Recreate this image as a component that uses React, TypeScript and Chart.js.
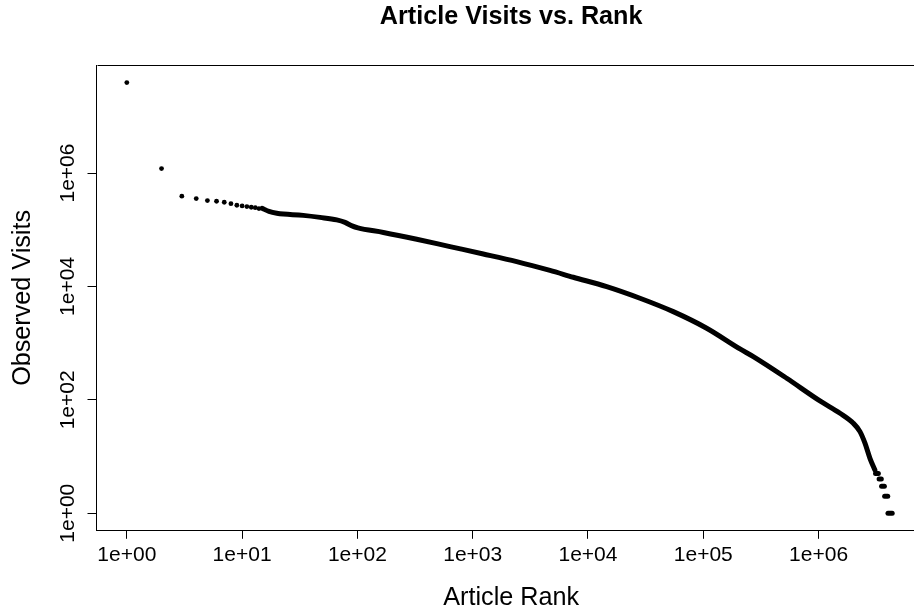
import { useEffect, useRef } from "react";
import { Chart, registerables } from "chart.js";

Chart.register(...registerables);

const FONT = '"Liberation Sans", Arial, Helvetica, sans-serif';

// Individually visible top-ranked articles
const topRanks = [1, 2, 3, 4, 5, 6, 7, 8, 9, 10, 11, 12, 13, 14];
const topVisits = [
  3.93e7, 1.2e6, 3.9e5, 3.54e5, 3.26e5, 3.18e5, 3.05e5, 2.88e5, 2.7e5, 2.63e5,
  2.56e5, 2.49e5, 2.45e5, 2.36e5,
];

// Dense body of the rank/visits curve
const curveRanks = [
  14.9, 17.1, 20, 33.9, 47.4, 66.1, 78.1, 89.8, 101, 168, 327, 635, 1236, 2408,
  4680, 7457, 14530, 28250, 54900, 1.07e5, 2.08e5, 2.716e5, 5.29e5, 1.028e6,
  1.535e6, 2.0e6, 2.286e6, 2.526e6, 2.79e6, 3.08e6,
];
const curveVisits = [
  2.39e5, 2.1e5, 1.95e5, 1.79e5, 1.65e5, 1.49e5, 1.345e5, 1.167e5, 1.076e5,
  8.96e4, 6.8e4, 5.04e4, 3.74e4, 2.74e4, 1.915e4, 1.452e4, 9920, 6190, 3594,
  1832, 790, 578, 240, 95.7, 58, 38.7, 27.5, 17.2, 9.3, 5.8,
];

// Tail: many articles sharing the same small visit count
const tailVisits = [5, 4, 3, 2, 1];
const tailRankStart = [3.12e6, 3.35e6, 3.52e6, 3.74e6, 4.0e6];
const tailRankEnd = [3.3e6, 3.5e6, 3.72e6, 3.98e6, 4.35e6];

const xTickValues = [1, 10, 100, 1e3, 1e4, 1e5, 1e6];
const xTickLabels = ["1e+00", "1e+01", "1e+02", "1e+03", "1e+04", "1e+05", "1e+06"];
const yTickValues = [1, 100, 1e4, 1e6];
const yTickLabels = ["1e+00", "1e+02", "1e+04", "1e+06"];

const titleText = "Article Visits vs. Rank";
const xTitle = "Article Rank";
const yTitle = "Observed Visits";

const framePlugin = {
  id: "frame",
  afterDraw(chart: any) {
    const { ctx, chartArea } = chart;
    const y = chart.scales.y;
    ctx.save();
    ctx.strokeStyle = "#000";
    ctx.lineWidth = 1;
    const top = Math.round(chartArea.top) + 0.5;
    const right = Math.round(chartArea.right) + 0.5;
    ctx.beginPath();
    ctx.moveTo(Math.round(chartArea.left) + 0.5, top);
    ctx.lineTo(right, top);
    ctx.lineTo(right, Math.round(chartArea.bottom) + 0.5);
    ctx.stroke();
    // rotated y tick labels (as in base R graphics)
    ctx.fillStyle = "#000";
    ctx.font = `21px ${FONT}`;
    ctx.textAlign = "center";
    ctx.textBaseline = "middle";
    yTickValues.forEach((v, i) => {
      const py = y.getPixelForValue(v);
      ctx.save();
      ctx.translate(chartArea.left - 28, py);
      ctx.rotate(-Math.PI / 2);
      ctx.fillText(yTickLabels[i], 0, 0);
      ctx.restore();
    });
    ctx.restore();
  },
};

export default function App() {
  const ref = useRef<HTMLCanvasElement | null>(null);

  useEffect(() => {
    if (!ref.current) return;
    Chart.defaults.font.family = FONT;
    Chart.defaults.color = "#000";

    const datasets: any[] = [
      {
        label: "top",
        data: topRanks.map((r, i) => ({ x: r, y: topVisits[i] })),
        pointRadius: 2.4,
        pointBorderWidth: 0,
        pointBackgroundColor: "#000",
        showLine: false,
      },
      {
        label: "curve",
        data: curveRanks.map((r, i) => ({ x: r, y: curveVisits[i] })),
        showLine: true,
        borderColor: "#000",
        borderWidth: 5,
        borderCapStyle: "round",
        borderJoinStyle: "round",
        cubicInterpolationMode: "monotone",
        pointRadius: 0,
      },
      ...tailVisits.map((v, i) => ({
        label: "tail" + v,
        data: [
          { x: tailRankStart[i], y: v },
          { x: tailRankEnd[i], y: v },
        ],
        showLine: true,
        borderColor: "#000",
        borderWidth: 5,
        borderCapStyle: "round",
        pointRadius: 0,
      })),
    ];

    const chart = new Chart(ref.current, {
      type: "scatter",
      data: { datasets },
      plugins: [framePlugin],
      options: {
        animation: false,
        responsive: false,
        devicePixelRatio: 1,
        layout: { padding: { left: 0, right: 96.2, top: 0, bottom: 0 } },
        plugins: {
          legend: { display: false },
          tooltip: { enabled: false },
          title: {
            display: true,
            text: titleText,
            fullSize: false,
            color: "#000",
            font: { family: FONT, size: 25.2, weight: "bold", lineHeight: 1.2 },
            padding: { top: 2, bottom: 32.76 },
          },
        },
        scales: {
          x: {
            type: "logarithmic",
            position: "bottom",
            min: Math.pow(10, -0.263),
            max: Math.pow(10, 6.93),
            afterBuildTicks: (scale: any) => {
              scale.ticks = xTickValues.map((v) => ({ value: v }));
            },
            afterFit: (scale: any) => {
              scale.height = 80.2;
              scale.paddingLeft = 0;
              scale.paddingRight = 0;
            },
            ticks: {
              autoSkip: false,
              maxRotation: 0,
              minRotation: 0,
              padding: 4,
              color: "#000",
              font: { family: FONT, size: 21, lineHeight: 1.2 },
              callback: (_v: any, i: number) => xTickLabels[i],
            },
            grid: {
              display: true,
              drawOnChartArea: false,
              drawTicks: true,
              tickLength: 8,
              color: "#000",
            },
            border: { display: true, color: "#000", width: 1 },
            title: {
              display: true,
              text: xTitle,
              color: "#000",
              font: { family: FONT, size: 25.2, lineHeight: 1 },
              padding: { top: 0, bottom: 0 },
            },
          },
          y: {
            type: "logarithmic",
            position: "left",
            min: Math.pow(10, -0.31),
            max: Math.pow(10, 7.905),
            afterBuildTicks: (scale: any) => {
              scale.ticks = yTickValues.map((v) => ({ value: v }));
            },
            afterFit: (scale: any) => {
              scale.width = 96.5;
              scale.paddingTop = 0;
              scale.paddingBottom = 0;
            },
            ticks: { display: false },
            grid: {
              display: true,
              drawOnChartArea: false,
              drawTicks: true,
              tickLength: 9,
              color: "#000",
            },
            border: { display: true, color: "#000", width: 1 },
            title: {
              display: true,
              text: yTitle,
              color: "#000",
              font: { family: FONT, size: 25.2, lineHeight: 1.2 },
              padding: { top: 7.8, bottom: 0 },
            },
          },
        },
      } as any,
    });
    return () => chart.destroy();
  }, []);

  return (
    <div
      style={{
        position: "fixed",
        left: 0,
        top: 0,
        width: 914,
        height: 611,
        overflow: "hidden",
        background: "#fff",
      }}
    >
      <canvas ref={ref} width={1022} height={611} style={{ display: "block" }} />
    </div>
  );
}
